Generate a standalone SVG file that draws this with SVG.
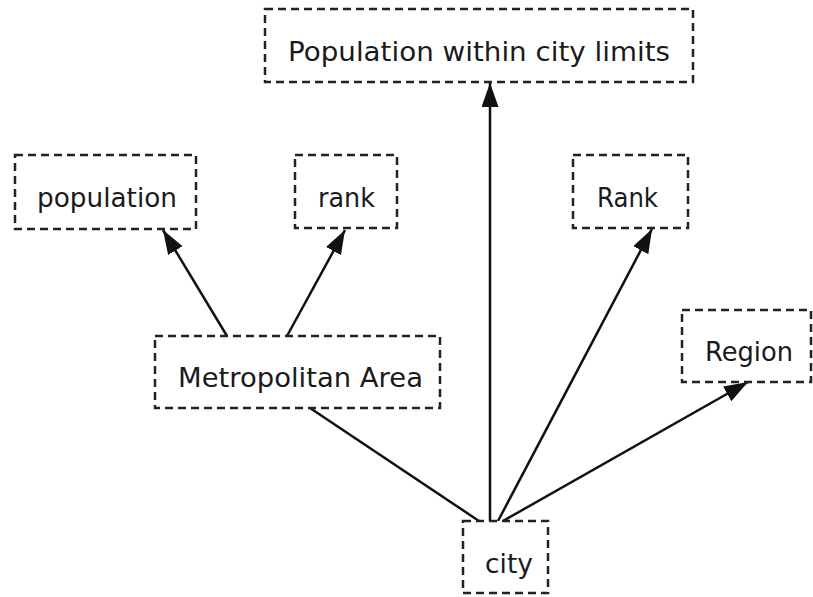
<svg xmlns="http://www.w3.org/2000/svg" width="813" height="597" viewBox="0 0 813 597">
<style>
.box{fill:#fff;stroke:#222;stroke-width:2.5;stroke-dasharray:8 5}
.lbl{font-family:"DejaVu Sans",Verdana,sans-serif;font-size:27px;fill:#1a1a1a}
.edge{stroke:#111;stroke-width:2.5;fill:none}
</style>
<defs>
<marker id="arr" markerUnits="userSpaceOnUse" markerWidth="26" markerHeight="18" refX="24" refY="8.5" orient="auto">
<path d="M0,0 L24,8.5 L0,17 z" fill="#111"/>
</marker>
</defs>
<rect width="813" height="597" fill="#fff"/>
<g id="connectors">
<line class="edge" x1="490" y1="521" x2="490" y2="83" marker-end="url(#arr)"/>
<line class="edge" x1="498" y1="521" x2="652" y2="229" marker-end="url(#arr)"/>
<line class="edge" x1="503" y1="521" x2="748" y2="382" marker-end="url(#arr)"/>
<line class="edge" x1="310" y1="408" x2="479" y2="521"/>
<line class="edge" x1="227" y1="336" x2="163" y2="230" marker-end="url(#arr)"/>
<line class="edge" x1="287" y1="336" x2="345" y2="230" marker-end="url(#arr)"/>
</g>
<g id="node-population-city-limits">
<rect class="box" x="265" y="9" width="428" height="73"/>
<text class="lbl" x="288" y="61" textLength="382" lengthAdjust="spacingAndGlyphs">Population within city limits</text>
</g>
<g id="node-population">
<rect class="box" x="15" y="155" width="181" height="74"/>
<text class="lbl" x="37" y="207" textLength="140" lengthAdjust="spacingAndGlyphs">population</text>
</g>
<g id="node-rank">
<rect class="box" x="295" y="155" width="102" height="73"/>
<text class="lbl" x="318" y="207" textLength="57" lengthAdjust="spacingAndGlyphs">rank</text>
</g>
<g id="node-Rank">
<rect class="box" x="573" y="155" width="115" height="73"/>
<text class="lbl" x="597" y="207" textLength="61" lengthAdjust="spacingAndGlyphs">Rank</text>
</g>
<g id="node-metro">
<rect class="box" x="155" y="336" width="285" height="72"/>
<text class="lbl" x="178" y="387" textLength="245" lengthAdjust="spacingAndGlyphs">Metropolitan Area</text>
</g>
<g id="node-region">
<rect class="box" x="682" y="310" width="129" height="72"/>
<text class="lbl" x="705" y="361" textLength="88" lengthAdjust="spacingAndGlyphs">Region</text>
</g>
<g id="node-city">
<rect class="box" x="463" y="521" width="85" height="72"/>
<text class="lbl" x="485" y="573" textLength="48" lengthAdjust="spacingAndGlyphs">city</text>
</g>
</svg>
